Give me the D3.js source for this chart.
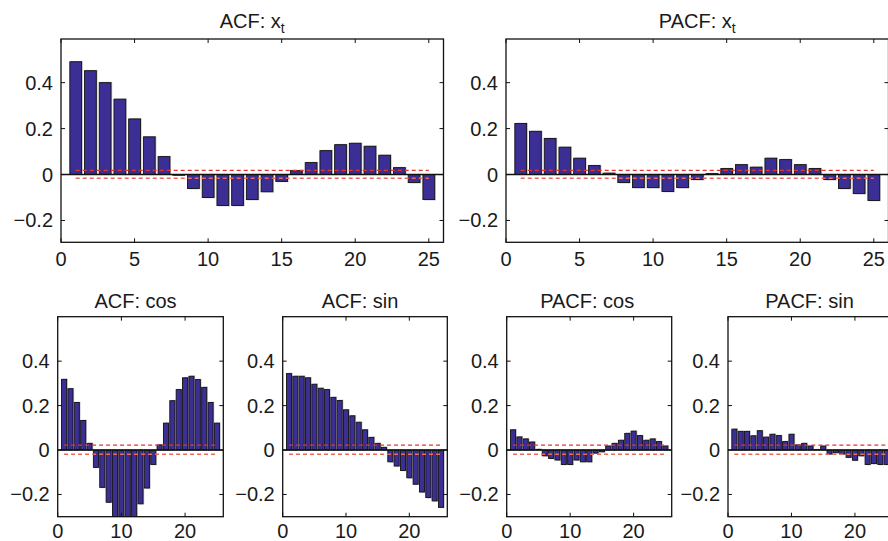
<!DOCTYPE html>
<html>
<head>
<meta charset="utf-8">
<script src="https://cdn.jsdelivr.net/npm/d3@7"></script>
<style>
  body { margin: 0; background: #fff; }
  text { font-family: "Liberation Sans", Arial, sans-serif; fill: #1a1a1a; }
</style>
</head>
<body>
<div class="container"></div>
<script>
// lags 1..25 for every panel
const lags = d3.range(1, 26);

const acfX = [0.491, 0.452, 0.400, 0.328, 0.242, 0.164, 0.078, -0.003, -0.061, -0.100,
  -0.135, -0.135, -0.109, -0.075, -0.030, 0.017, 0.052, 0.104, 0.130, 0.136,
  0.123, 0.084, 0.030, -0.035, -0.109];
const pacfX = [0.222, 0.188, 0.157, 0.119, 0.071, 0.039, 0.006, -0.035, -0.057, -0.057,
  -0.074, -0.057, -0.022, 0.004, 0.026, 0.043, 0.032, 0.071, 0.065, 0.043,
  0.026, -0.022, -0.061, -0.083, -0.113];
const acfCos = [0.318, 0.276, 0.214, 0.133, 0.030, -0.078, -0.168, -0.235, -0.32, -0.34,
  -0.34, -0.32, -0.242, -0.171, -0.065, 0.023, 0.121, 0.222, 0.272, 0.325,
  0.332, 0.317, 0.282, 0.214, 0.121];
const acfSin = [0.344, 0.332, 0.332, 0.325, 0.296, 0.278, 0.272, 0.237, 0.223, 0.181,
  0.154, 0.125, 0.091, 0.057, 0.030, 0.012, -0.053, -0.072, -0.092, -0.125,
  -0.154, -0.189, -0.214, -0.229, -0.258];
const pacfCos = [0.091, 0.059, 0.050, 0.036, 0.003, -0.026, -0.038, -0.045, -0.065, -0.065,
  -0.045, -0.053, -0.053, -0.014, -0.008, 0.018, 0.030, 0.044, 0.075, 0.085,
  0.065, 0.044, 0.050, 0.038, 0.018];
const pacfSin = [0.094, 0.084, 0.084, 0.064, 0.087, 0.058, 0.071, 0.065, 0.038, 0.071,
  0.023, 0.030, 0.018, 0.002, 0.018, -0.018, -0.012, -0.018, -0.033, -0.046,
  -0.026, -0.065, -0.061, -0.065, -0.065];

// confidence bounds (upper, lower)
const boundsTop = [0.018, -0.016];
const boundsBottom = [0.022, -0.019];

const yTicks = [-0.2, 0, 0.2, 0.4];
const xTicksTop = [0, 5, 10, 15, 20, 25];
const xTicksBottom = [0, 10, 20];

const panels = [
  { title: "ACF: x", sub: "t", values: acfX, bounds: boundsTop, xTicks: xTicksTop,
    x0: 61, x1: 443.5, y0: 39, y1: 242.3, yDom: [-0.295, 0.59], titleY: 28, labelDy: 24, titleDx: 0 },
  { title: "PACF: x", sub: "t", values: pacfX, bounds: boundsTop, xTicks: xTicksTop,
    x0: 506, x1: 888.5, y0: 39, y1: 242.3, yDom: [-0.295, 0.59], titleY: 28, labelDy: 24, titleDx: 0 },
  { title: "ACF: cos", values: acfCos, bounds: boundsBottom, xTicks: xTicksBottom,
    x0: 57.7, x1: 223.3, y0: 316.7, y1: 516.7, yDom: [-0.3, 0.6], titleY: 308, labelDy: 21, titleDx: -5 },
  { title: "ACF: sin", values: acfSin, bounds: boundsBottom, xTicks: xTicksBottom,
    x0: 282.7, x1: 447.3, y0: 316.7, y1: 516.7, yDom: [-0.3, 0.6], titleY: 308, labelDy: 21, titleDx: -5 },
  { title: "PACF: cos", values: pacfCos, bounds: boundsBottom, xTicks: xTicksBottom,
    x0: 506.7, x1: 671.7, y0: 316.7, y1: 516.7, yDom: [-0.3, 0.6], titleY: 308, labelDy: 21, titleDx: -2 },
  { title: "PACF: sin", values: pacfSin, bounds: boundsBottom, xTicks: xTicksBottom,
    x0: 728, x1: 893, y0: 316.7, y1: 516.7, yDom: [-0.3, 0.6], titleY: 308, labelDy: 21, titleDx: -1 },
];

var svg = d3.select(".container")
  .append("svg")
  .attr("width", 888)
  .attr("height", 541);

let drawPanel = (p, i) => {
  let x = d3.scaleLinear().domain([0, 26]).range([p.x0, p.x1]);
  let y = d3.scaleLinear().domain(p.yDom).range([p.y1, p.y0]);
  let g = svg.append("g");

  svg.append("clipPath").attr("id", "clip" + i)
    .append("rect")
    .attr("x", p.x0).attr("y", p.y0)
    .attr("width", p.x1 - p.x0).attr("height", p.y1 - p.y0);

  let plot = g.append("g").attr("clip-path", `url(#clip${i})`);
  let bw = x(0.8) - x(0);
  let data = lags.map((l, k) => ({ lag: l, v: p.values[k] }));

  // light grey shadow behind each bar
  plot.selectAll("rect.shadow")
    .data(data)
    .enter()
    .append("rect")
    .attr("class", "shadow")
    .attr("x", (d) => x(d.lag) - bw / 2 + 1.2)
    .attr("y", (d) => Math.min(y(d.v), y(0)) - (d.v > 0 ? 0.8 : 0))
    .attr("width", bw)
    .attr("height", (d) => Math.abs(y(d.v) - y(0)) + 0.8)
    .attr("fill", "#c4c4c4");

  plot.selectAll("rect.bar")
    .data(data)
    .enter()
    .append("rect")
    .attr("class", "bar")
    .attr("x", (d) => x(d.lag) - bw / 2)
    .attr("y", (d) => Math.min(y(d.v), y(0)))
    .attr("width", bw)
    .attr("height", (d) => Math.abs(y(d.v) - y(0)))
    .attr("fill", "#3b2e94")
    .attr("stroke", "#111")
    .attr("stroke-width", 0.9);

  // zero line
  plot.append("line")
    .attr("x1", p.x0).attr("x2", p.x1)
    .attr("y1", y(0)).attr("y2", y(0))
    .attr("stroke", "#111").attr("stroke-width", 1.4);

  // confidence bounds
  plot.append("line")
    .attr("x1", x(1)).attr("x2", x(25))
    .attr("y1", y(p.bounds[0])).attr("y2", y(p.bounds[0]))
    .attr("stroke", "#e8352c").attr("stroke-width", 1.1)
    .attr("stroke-dasharray", "4,3");
  plot.append("line")
    .attr("x1", x(1)).attr("x2", x(25))
    .attr("y1", y(p.bounds[1])).attr("y2", y(p.bounds[1]))
    .attr("stroke", "#ea6a5e").attr("stroke-width", 1.6)
    .attr("stroke-dasharray", "4,3");

  // frame
  g.append("rect")
    .attr("x", p.x0).attr("y", p.y0)
    .attr("width", p.x1 - p.x0).attr("height", p.y1 - p.y0)
    .attr("fill", "none").attr("stroke", "#111").attr("stroke-width", 1.3);

  // inner ticks on all four sides
  let tk = 4;
  yTicks.forEach((t) => {
    g.append("line").attr("x1", p.x0).attr("x2", p.x0 + tk)
      .attr("y1", y(t)).attr("y2", y(t)).attr("stroke", "#111");
    g.append("line").attr("x1", p.x1).attr("x2", p.x1 - tk)
      .attr("y1", y(t)).attr("y2", y(t)).attr("stroke", "#111");
  });
  p.xTicks.forEach((t) => {
    g.append("line").attr("x1", x(t)).attr("x2", x(t))
      .attr("y1", p.y1).attr("y2", p.y1 - tk).attr("stroke", "#111");
    g.append("line").attr("x1", x(t)).attr("x2", x(t))
      .attr("y1", p.y0).attr("y2", p.y0 + tk).attr("stroke", "#111");
  });

  g.selectAll("text.ylab")
    .data(yTicks)
    .enter()
    .append("text")
    .attr("class", "ylab")
    .attr("x", p.x0 - 8)
    .attr("y", (d) => y(d))
    .attr("dy", "0.35em")
    .attr("text-anchor", "end")
    .attr("font-size", 20)
    .text((d) => (d < 0 ? "\u2212" + Math.abs(d) : d));

  g.selectAll("text.xlab")
    .data(p.xTicks)
    .enter()
    .append("text")
    .attr("class", "xlab")
    .attr("x", (d) => x(d))
    .attr("y", p.y1 + p.labelDy)
    .attr("text-anchor", "middle")
    .attr("font-size", 20)
    .text((d) => d);

  let title = g.append("text")
    .attr("x", (p.x0 + p.x1) / 2 + p.titleDx)
    .attr("y", p.titleY)
    .attr("text-anchor", "middle")
    .attr("font-size", 20)
    .text(p.title);
  if (p.sub) {
    title.append("tspan").attr("dy", 5).attr("font-size", 14).text(p.sub);
  }
};

panels.forEach(drawPanel);
</script>
</body>
</html>
